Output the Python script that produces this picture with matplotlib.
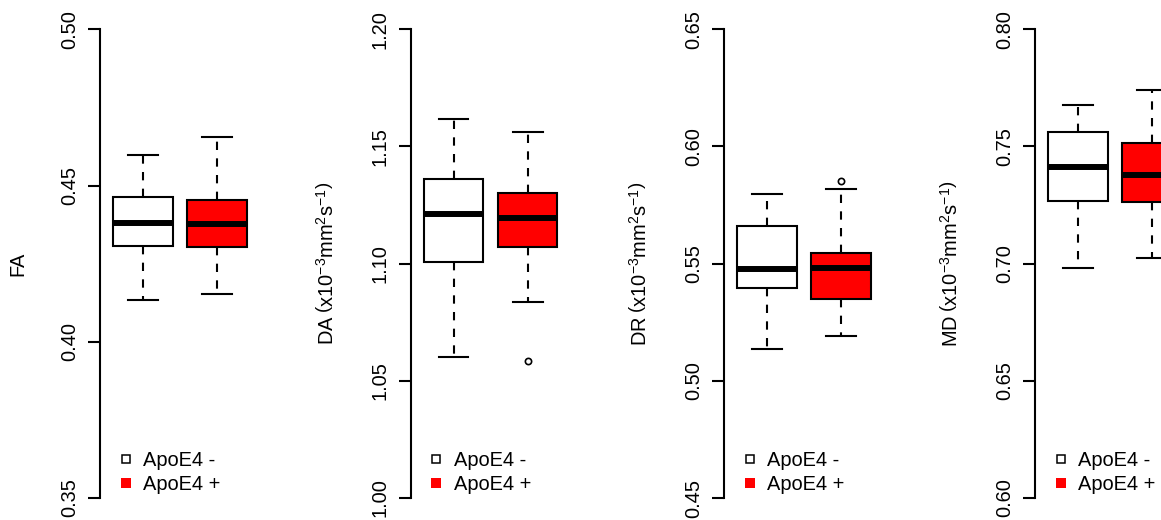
#!/usr/bin/env python3
"""DTI metrics by ApoE4 carrier status: four R-style box plots side by side."""

import matplotlib

matplotlib.use("Agg")
import matplotlib.pyplot as plt
from matplotlib.lines import Line2D
from matplotlib.ticker import MultipleLocator

plt.rcParams["font.family"] = ["Liberation Sans", "DejaVu Sans"]
plt.rcParams["mathtext.fontset"] = "custom"
plt.rcParams["mathtext.rm"] = "Liberation Sans"
plt.rcParams["mathtext.it"] = "Liberation Sans:italic"
plt.rcParams["mathtext.bf"] = "Liberation Sans:bold"

groups = ["ApoE4 -", "ApoE4 +"]
group_colors = ["white", "#ff0000"]

unit = r"\left(\mathrm{x10^{-3}mm^{2}s^{-1}}\right)"
y_labels = [
    "FA",
    r"DA$\;" + unit + "$",
    r"DR$\;" + unit + "$",
    r"MD$\;" + unit + "$",
]
y_limits = [(0.35, 0.50), (1.00, 1.20), (0.45, 0.65), (0.60, 0.80)]

# box summaries: lower whisker, Q1, median, Q3, upper whisker
fa_neg = [0.4133, 0.4306, 0.4379, 0.4462, 0.4599]
fa_pos = [0.4152, 0.4302, 0.4376, 0.4453, 0.4656]
da_neg = [1.0603, 1.1007, 1.1210, 1.1361, 1.1617]
da_pos = [1.0835, 1.1072, 1.1193, 1.1300, 1.1563]
dr_neg = [0.5136, 0.5397, 0.5477, 0.5662, 0.5797]
dr_pos = [0.5191, 0.5349, 0.5480, 0.5547, 0.5820]
md_neg = [0.6983, 0.7266, 0.7414, 0.7562, 0.7677]
md_pos = [0.7025, 0.7262, 0.7378, 0.7516, 0.7741]

# outliers
fa_neg_out, fa_pos_out = [], []
da_neg_out, da_pos_out = [], [1.0585]
dr_neg_out, dr_pos_out = [], [0.5853]
md_neg_out, md_pos_out = [], []

panels = [
    ((fa_neg, fa_neg_out), (fa_pos, fa_pos_out)),
    ((da_neg, da_neg_out), (da_pos, da_pos_out)),
    ((dr_neg, dr_neg_out), (dr_pos, dr_pos_out)),
    ((md_neg, md_neg_out), (md_pos, md_pos_out)),
]

W, H = 1161, 520
AXIS_X = [100, 410.7, 724, 1035]  # pixel x of each y-axis line
AX_W = 160
AX_TOP, AX_BOT = 29.3, 498
FS = 14.4


def to_stats(summary, fliers):
    lo, q1, med, q3, hi = summary
    return dict(whislo=lo, q1=q1, med=med, q3=q3, whishi=hi, fliers=fliers)


def main():
    fig = plt.figure(figsize=(W / 100, H / 100), dpi=100)

    for i, (pair, label, lims) in enumerate(zip(panels, y_labels, y_limits)):
        ax = fig.add_axes(
            [AXIS_X[i] / W, (H - AX_BOT) / H, AX_W / W, (AX_BOT - AX_TOP) / H]
        )
        ax.patch.set_visible(False)

        stats = [to_stats(s, f) for s, f in pair]
        bp = ax.bxp(
            stats,
            positions=[1, 2],
            widths=0.8,
            capwidths=0.4,
            patch_artist=True,
            boxprops=dict(linewidth=1.5, edgecolor="black"),
            medianprops=dict(color="black", linewidth=4.3, solid_capstyle="butt"),
            whiskerprops=dict(color="black", linewidth=1.5, linestyle=(0, (4, 4))),
            capprops=dict(color="black", linewidth=1.5),
            flierprops=dict(marker="o", markersize=4.5, markerfacecolor="none",
                            markeredgecolor="black", markeredgewidth=1.2),
        )
        for box, c in zip(bp["boxes"], group_colors):
            box.set_facecolor(c)

        ax.set_xlim(0.42, 2.58)
        ax.set_ylim(*lims)
        ax.set_xticks([])
        for side in ("top", "right", "bottom"):
            ax.spines[side].set_visible(False)
        ax.spines["left"].set_linewidth(1.5)
        ax.yaxis.set_major_locator(MultipleLocator(0.05))
        ax.yaxis.set_major_formatter(lambda v, _: f"{v:.2f}")
        ax.tick_params(axis="y", direction="out", length=8.6, width=1.5,
                       pad=6.5, labelsize=FS, labelrotation=90)
        for t in ax.get_yticklabels():
            t.set_verticalalignment("center")

        ax.set_ylabel(label, fontsize=FS, va="baseline")
        ax.yaxis.set_label_coords(-77 / AX_W, 0.5)

        handles = [
            Line2D([], [], ls="none", marker="s", ms=6, mfc="white",
                   mec="black", mew=1.1),
            Line2D([], [], ls="none", marker="s", ms=6.5, mfc="#ff0000",
                   mec="#ff0000", mew=0),
        ]
        ax.legend(handles, groups, loc="lower left", bbox_to_anchor=(0.11, 0.008),
                  frameon=False, borderpad=0, borderaxespad=0, handlelength=0.8,
                  handletextpad=0.47, labelspacing=0.28, fontsize=FS)

    fig.savefig("out.png", dpi=100, facecolor="white")
    plt.close(fig)


if __name__ == "__main__":
    main()
